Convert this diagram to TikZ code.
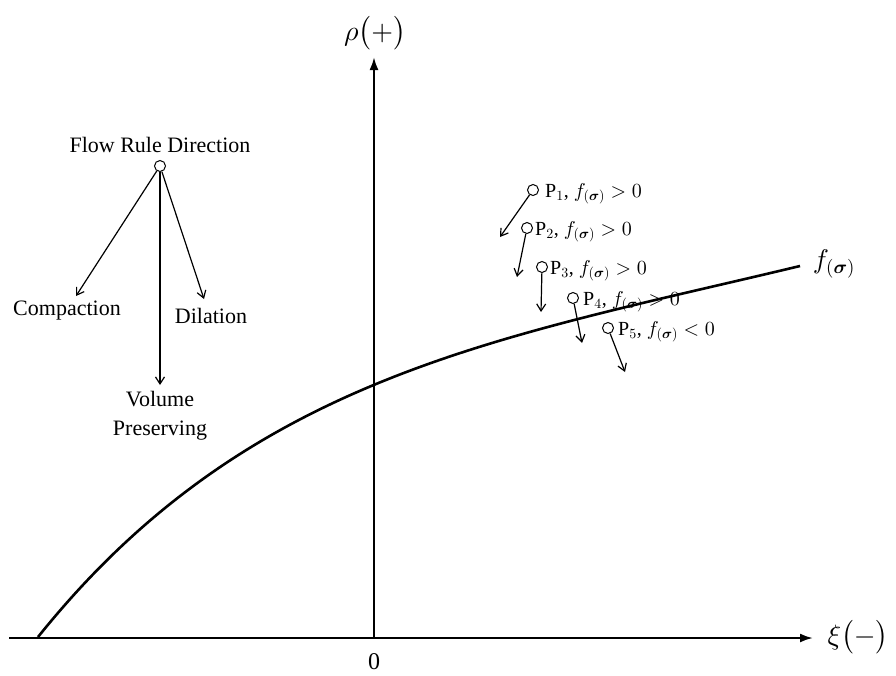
\documentclass[tikz,border=0pt]{standalone}
\usepackage{amsmath,bm}
\usepackage{fontspec}
\setmainfont{Liberation Serif}
\DeclareFontShape{OML}{cmm}{m}{it}{<->cmmi10}{}
\DeclareFontShape{OML}{cmm}{b}{it}{<->cmmib10}{}
\DeclareFontShape{OMS}{cmsy}{m}{n}{<->cmsy10}{}
\DeclareFontShape{OMS}{cmsy}{b}{n}{<->cmbsy10}{}
\DeclareFontShape{OT1}{cmr}{m}{n}{<->cmr10}{}
\DeclareFontShape{OT1}{cmr}{bx}{n}{<->cmbx10}{}
\DeclareFontShape{OMX}{cmex}{m}{n}{<->cmex10}{}
\usetikzlibrary{arrows.meta}
\tikzset{
  axisline/.style={line width=2.2pt,-{Latex[length=13pt,width=9pt]}},
  yieldcurve/.style={line width=2.6pt},
  arr/.style={line width=1.2pt,-{Straight Barb[length=7pt,width=9pt]}},
  lbl/.style={inner sep=0pt,font=\fontsize{22}{26}\selectfont},
  plbl/.style={inner sep=0pt,font=\fontsize{20}{24}\selectfont},
  pt/.style={circle,draw,line width=1pt,minimum size=11pt,inner sep=0pt},
  big/.style={inner sep=0pt,font=\fontsize{28}{33}\selectfont}
}
\begin{document}
\begin{tikzpicture}[x=1pt,y=-1pt]
\useasboundingbox (0,0) rectangle (896,675);
% axes
\coordinate (o) at (374,638);
\coordinate (xl) at (9,638);
\coordinate (xr) at (813,638);
\coordinate (yt) at (374,57);
\draw[line width=2.2pt] (xl) -- (o);
\draw[axisline] (o) -- (xr);
\draw[axisline] (o) -- (yt);
\node[big] (rho) at (375,33) {$\rho\bigl(+\bigr)$};
\node[big] (xi) at (858,637) {$\xi\bigl(-\bigr)$};
\node[inner sep=0pt,font=\fontsize{24}{28}\selectfont] (zero) at (374,662) {0};
% flow rule
\node[lbl] (flow) at (160,145) {Flow Rule Direction};
\node[pt] (fc) at (160,166) {};
\node[lbl] (comp) at (67,311) {Compaction};
\node[lbl] (dil) at (211,316) {Dilation};
\node[lbl,align=center] (vol) at (160,415.5) {Volume\\[3pt]Preserving};
\coordinate (ct) at (76,296);
\coordinate (dt) at (204,299);
\coordinate (vt) at (160,385);
\draw[arr] (fc) -- (ct);
\draw[arr] (fc) -- (dt);
\draw[arr] (fc) -- (vt);
% stress points
\node[pt] (p1) at (533,190) {};
\node[pt] (p2) at (527,228) {};
\node[pt] (p3) at (542,267) {};
\node[pt] (p4) at (573,298) {};
\node[pt] (p5) at (608,328) {};
\coordinate (t1) at (500,237);
\coordinate (t2) at (517,277);
\coordinate (t3) at (541,312);
\coordinate (t4) at (582,343);
\coordinate (t5) at (625,372);
\draw[arr] (p1) -- (t1);
\draw[arr] (p2) -- (t2);
\draw[arr] (p3) -- (t3);
\draw[arr] (p4) -- (t4);
\draw[arr] (p5) -- (t5);
\node[plbl,anchor=base west] (l1) at (545,197) {P$_1$, $f_{(\bm{\sigma})}>0$};
\node[plbl,anchor=base west] (l2) at (535,235) {P$_2$, $f_{(\bm{\sigma})}>0$};
\node[plbl,anchor=base west] (l3) at (550,274) {P$_3$, $f_{(\bm{\sigma})}>0$};
\node[plbl,anchor=base west] (l4) at (583,305) {P$_4$, $f_{(\bm{\sigma})}>0$};
\node[plbl,anchor=base west] (l5) at (618,335) {P$_5$, $f_{(\bm{\sigma})}<0$};
% yield curve
\coordinate (cs) at (38,637);
\coordinate (ce) at (800,266);
\draw[yieldcurve] (cs) .. controls (248,375) and (500,338) .. (ce);
\node[inner sep=0pt,font=\fontsize{27}{32}\selectfont] (fs) at (834,264) {$f_{(\bm{\sigma})}$};
\end{tikzpicture}
\end{document}
